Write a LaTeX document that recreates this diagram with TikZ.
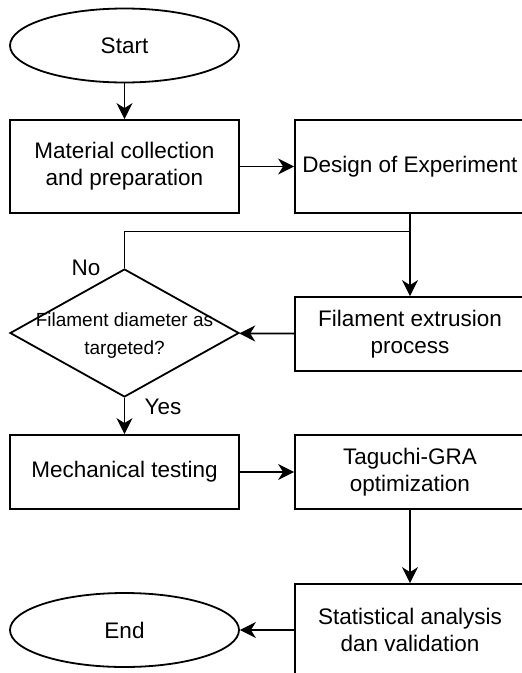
\documentclass[tikz,border=0pt]{standalone}
\usepackage{fontspec}
\setmainfont{Liberation Sans}
\usetikzlibrary{shapes.geometric,arrows.meta}
\begin{document}
\begin{tikzpicture}[x=1pt,y=-1pt,
  line width=1.8pt,
  txt/.style={font=\fontsize{22.5}{27}\selectfont, align=center},
  box/.style={draw, rectangle, txt, inner sep=0pt},
  lbox/.style={box, minimum width=229pt, minimum height=93pt},
  rbox/.style={box, minimum width=230pt},
  term/.style={draw, ellipse, txt, minimum width=229pt, minimum height=74pt, inner sep=0pt},
  dia/.style={draw, diamond, minimum width=229pt, minimum height=128pt, inner sep=0pt},
  arr/.style={-{Stealth[length=16pt,width=16pt,inset=5pt]}}]
\useasboundingbox (0,0) rectangle (522,673);
\fill[white] (0,0) rectangle (522,673);

\node[term] (start) at (124.5,45.5) {Start};
\node[lbox] (mat) at (124.5,166.5) {Material collection\\and preparation};
\node[rbox, minimum height=93pt] (doe) at (410,166.5) {Design of Experiment};
\node[rbox, minimum height=74pt] (ext) at (410,334) {Filament extrusion\\process};
\node[dia] (dia) at (124.5,333) {};
\node[font=\fontsize{19}{28}\selectfont, align=center] (diat) at (124.5,336) {Filament diameter as\\targeted?};
\node[box, minimum width=229pt, minimum height=74pt] (mech) at (124.5,472) {Mechanical testing};
\node[rbox, minimum height=74pt] (tag) at (410,472) {Taguchi-GRA\\optimization};
\node[rbox, minimum height=92pt] (stat) at (410,630) {Statistical analysis\\dan validation};
\node[term] (end) at (124.5,630) {End};

\node[txt] (no) at (86,268) {No};
\node[txt] (yes) at (163,407) {Yes};
\coordinate (br) at (410,231.5);

\draw[arr] (start) -- (mat);
\draw[arr] (mat) -- (doe);
\draw[arr] (doe) -- (ext);
\draw (br) -| (dia.north);
\draw[arr] (ext) -- (dia);
\draw[arr] (dia) -- (mech);
\draw[arr] (mech) -- (tag);
\draw[arr] (tag) -- (stat);
\draw[arr] (stat) -- (end);
\end{tikzpicture}
\end{document}
